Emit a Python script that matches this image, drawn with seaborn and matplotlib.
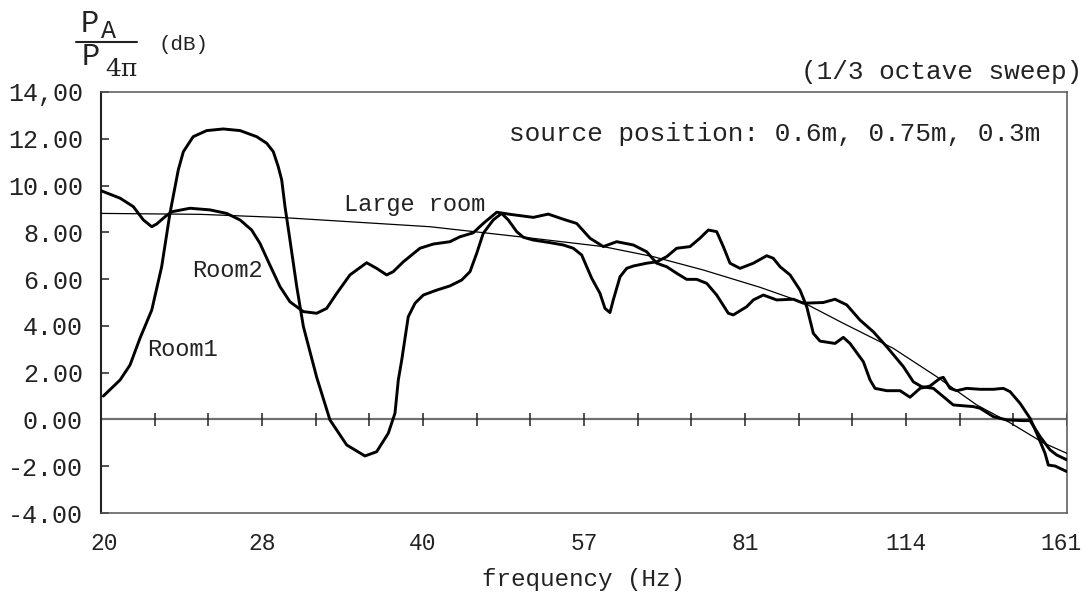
import numpy as np
import pandas as pd
import matplotlib
matplotlib.use("Agg")
import matplotlib.pyplot as plt
from matplotlib.ticker import NullLocator
from matplotlib.transforms import ScaledTranslation
import seaborn as sns

# Room responses relative to free-field level, 1/3 octave sweep
room1_freq = [20.1, 20.84, 21.29, 21.75, 22.31, 22.79, 23.20, 23.62, 23.88, 24.39, 25.11, 26.02,
              26.98, 27.96, 28.57, 28.98, 29.29, 29.51, 29.72, 30.04, 30.48, 30.92, 31.82, 32.74,
              33.94, 35.30, 36.20, 37.12, 37.66, 37.93, 38.21, 38.75, 39.32, 40.03, 41.20, 42.39,
              43.47, 44.26, 44.90, 45.54, 46.53, 47.38, 48.06, 48.94, 49.64, 50.72, 52.57, 54.10,
              55.28, 56.29, 56.90, 57.51, 58.55, 59.18, 59.82, 60.25, 61.13, 62.01, 62.90, 64.74,
              66.15, 67.59, 69.06, 71.07, 72.61, 73.93, 75.27, 76.35, 77.46, 79.15, 81.45, 83.83,
              85.03, 86.27, 88.15, 90.06, 91.37, 92.68, 94.02, 97.11, 98.86, 100.29, 103.21, 104.71,
              105.84, 108.54, 111.70, 114.12, 116.61, 119.14, 121.74, 122.60, 124.38, 126.20, 128.94,
              132.69, 136.54, 139.50, 141.54, 144.62, 147.77, 149.91, 152.62, 153.70, 155.94, 160.0]
room1_db = [1.00, 1.69, 2.33, 3.47, 4.68, 6.53, 8.81, 10.67, 11.45, 12.09, 12.35, 12.42,
            12.35, 12.09, 11.81, 11.45, 10.81, 10.24, 9.10, 7.67, 5.68, 3.97, 1.80, -0.02,
            -1.09, -1.56, -1.38, -0.59, 0.27, 1.69, 2.54, 4.39, 4.97, 5.32, 5.53, 5.71,
            5.96, 6.32, 7.10, 7.96, 8.53, 8.81, 8.53, 8.03, 7.79, 7.67, 7.56, 7.46,
            7.32, 7.03, 6.53, 6.04, 5.39, 4.75, 4.57, 5.11, 6.10, 6.46, 6.56, 6.68,
            6.74, 6.96, 7.32, 7.39, 7.75, 8.10, 8.03, 7.39, 6.68, 6.46, 6.68, 7.00,
            6.89, 6.53, 6.18, 5.53, 4.82, 3.68, 3.35, 3.25, 3.51, 3.25, 2.47, 1.69,
            1.33, 1.23, 1.23, 0.95, 1.33, 1.43, 1.76, 1.80, 1.33, 1.23, 1.33,
            1.29, 1.29, 1.33, 1.19, 0.69, 0.05, -0.59, -1.45, -1.95, -1.99, -2.23]

room2_freq = [20.0, 20.84, 21.44, 21.91, 22.31, 22.55, 22.96, 23.29, 24.22, 25.29, 26.21, 26.98,
              27.66, 28.16, 28.77, 29.40, 30.04, 30.92, 31.82, 32.51, 33.22, 34.18, 35.43, 36.20,
              36.99, 37.52, 38.34, 39.74, 40.90, 42.39, 43.31, 44.57, 45.54, 46.88, 48.24, 50.72,
              52.38, 54.10, 55.69, 57.30, 58.97, 60.69, 62.90, 64.74, 66.15, 67.59, 69.06, 70.56,
              72.10, 73.67, 75.27, 77.18, 78.01, 80.29, 81.45, 83.22, 85.65, 88.77, 90.70, 94.69,
              97.11, 99.58, 102.47, 105.45, 108.54, 112.49, 114.94, 117.04, 120.00, 125.27, 130.79,
              132.69, 136.54, 140.53, 145.65, 147.77, 150.98, 154.27, 156.51, 160.0]
room2_db = [9.78, 9.46, 9.10, 8.53, 8.24, 8.36, 8.67, 8.88, 9.03, 8.96, 8.81, 8.53,
            8.10, 7.53, 6.60, 5.68, 5.03, 4.61, 4.54, 4.75, 5.39, 6.18, 6.70, 6.46,
            6.18, 6.32, 6.74, 7.32, 7.50, 7.60, 7.81, 7.98, 8.38, 8.86, 8.77, 8.64,
            8.78, 8.56, 8.38, 7.75, 7.39, 7.60, 7.46, 7.17, 6.68, 6.53, 6.25, 5.99,
            5.99, 5.82, 5.32, 4.54, 4.47, 4.82, 5.11, 5.32, 5.11, 5.14, 4.97, 5.00,
            5.14, 4.90, 4.25, 3.75, 3.11, 2.26, 1.61, 1.40, 1.33, 0.62, 0.55,
            0.48, 0.12, -0.02, -0.05, -0.05, -0.73, -1.30, -1.52, -1.73]

large_freq = [20.0, 24.75, 29.61, 40.61, 49.28, 58.97, 65.67, 73.13, 82.63, 90.70, 98.86,
              110.09, 120.86, 131.75, 141.54, 152.06, 160.0]
large_db = [8.81, 8.77, 8.63, 8.24, 7.81, 7.39, 6.96, 6.39, 5.65, 5.00, 4.11,
            3.04, 1.83, 0.62, -0.14, -1.00, -1.45]

# Axis ticks: half-octave labels, 1/6-octave marks on the 0 dB line
x_tick_freq = [20.0, 28.28, 40.0, 56.57, 80.0, 113.14, 160.0]
x_tick_labels = ["20", "28", "40", "57", "81", "114", "161"]
sixth_octave_marks = [20.0 * 2 ** (k / 6) for k in range(1, 19)]
y_ticks = [-4, -2, 0, 2, 4, 6, 8, 10, 12, 14]
y_tick_labels = ["-4.00", "-2.00", "0.00", "2.00", "4.00", "6.00", "8.00", "10.00", "12.00", "14,00"]

sns.set_style("white")
plt.rcParams["font.family"] = ["Liberation Mono", "DejaVu Sans"]
TXT = "#222222"

fig = plt.figure(figsize=(10.86, 5.92), dpi=100)
ax = fig.add_axes([0.0930, 0.1334, 0.8895, 0.7112])

df_r1 = pd.DataFrame({"f": room1_freq, "db": room1_db})
df_r2 = pd.DataFrame({"f": room2_freq, "db": room2_db})
df_lr = pd.DataFrame({"f": large_freq, "db": large_db})

# zero reference line with 1/6-octave marks
ax.axhline(0, color="#707070", lw=1.6, zorder=1)
ax.vlines(sixth_octave_marks, -0.27, 0.27, color="#222222", lw=1.1, zorder=1)

sns.lineplot(data=df_lr, x="f", y="db", ax=ax, color="black", lw=0.9,
             estimator=None, sort=False, zorder=3)
sns.lineplot(data=df_r1, x="f", y="db", ax=ax, color="black", lw=2.1,
             estimator=None, sort=False, zorder=4)
sns.lineplot(data=df_r2, x="f", y="db", ax=ax, color="black", lw=2.1,
             estimator=None, sort=False, zorder=4)

ax.set_xscale("log")
ax.set_xlim(20, 160)
ax.set_ylim(-4, 14)
ax.set_xticks(x_tick_freq)
ax.set_xticklabels(x_tick_labels)
ax.xaxis.set_minor_locator(NullLocator())
ax.set_yticks(y_ticks)
ax.set_yticklabels(y_tick_labels)
ax.tick_params(axis="x", length=0, pad=14, labelsize=16.5, labelcolor=TXT)
ax.tick_params(axis="y", direction="in", length=6, width=1.2, color="#333333",
               pad=13, labelsize=18, labelcolor=TXT, left=True)
ax.set_xlabel("frequency (Hz)", fontsize=17.5, color=TXT, labelpad=9)
ax.set_ylabel("")

# keep the right-most frequency label inside the canvas
last = ax.get_xticklabels()[-1]
last.set_transform(last.get_transform() + ScaledTranslation(-4 / 72, 0, fig.dpi_scale_trans))
first = ax.get_xticklabels()[0]
first.set_transform(first.get_transform() + ScaledTranslation(2 / 72, 0, fig.dpi_scale_trans))

for side in ["top", "right", "bottom"]:
    ax.spines[side].set_visible(True)
    ax.spines[side].set_color("#555555")
    ax.spines[side].set_linewidth(1.1)
ax.spines["left"].set_color("#222222")
ax.spines["left"].set_linewidth(1.5)

# curve labels
ax.text(22.08, 2.97, "Room1", fontsize=17, color=TXT, ha="left", va="center")
ax.text(24.33, 6.35, "Room2", fontsize=17, color=TXT, ha="left", va="center")
ax.text(33.74, 9.17, "Large room", fontsize=17, color=TXT, ha="left", va="center")
ax.text(0.4224, 0.900, "source position: 0.6m, 0.75m, 0.3m", transform=ax.transAxes,
        fontsize=18.8, color=TXT, ha="left", va="center")

# header texts
fig.text(0.997, 1 - 72 / 592, "(1/3 octave sweep)", fontsize=18.8, color=TXT,
         ha="right", va="center")
fig.text(81 / 1086, 1 - 24 / 592, "P", fontsize=22, color=TXT, ha="left", va="center")
fig.text(101 / 1086, 1 - 31 / 592, "A", fontsize=18, color=TXT, ha="left", va="center")
fig.add_artist(plt.Line2D([76 / 1086, 137 / 1086], [1 - 41.7 / 592, 1 - 41.7 / 592],
                          color=TXT, lw=1.5))
fig.text(82 / 1086, 1 - 57 / 592, "P", fontsize=22, color=TXT, ha="left", va="center")
fig.text(105 / 1086, 1 - 69 / 592, "4\u03c0", fontsize=18, color=TXT, ha="left", va="center",
         family=["DejaVu Serif", "Liberation Mono"])
fig.text(158 / 1086, 1 - 45 / 592, "(dB)", fontsize=15, color=TXT, ha="left", va="center")

fig.savefig("out.png", dpi=100, facecolor="white")
